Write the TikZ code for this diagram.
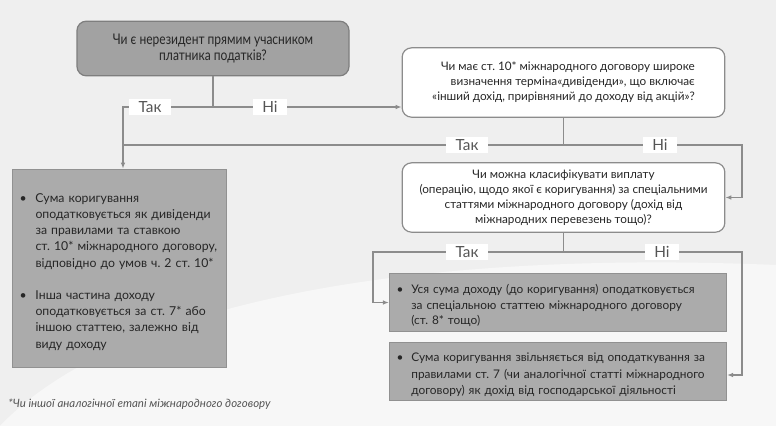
\documentclass[tikz,border=0pt]{standalone}
\usepackage{fontspec}
\setmainfont{Lato}
\newfontfamily\narrowfont[FakeStretch=0.82]{Lato}
\usetikzlibrary{arrows.meta}
\frenchspacing

\definecolor{bgcol}{HTML}{EFEFEF}
\definecolor{darkbox}{HTML}{A2A2A2}
\definecolor{midbox}{HTML}{ABABAB}
\definecolor{edgecol}{HTML}{8C8C8C}
\definecolor{txtcol}{HTML}{262626}
\definecolor{labcol}{HTML}{555555}

\newcommand{\bitem}[2][12pt]{\par\leftskip=#1\noindent\llap{\makebox[#1][l]{\textbullet}}#2\par}

\begin{document}
\begin{tikzpicture}[x=0.75pt, y=-0.75pt,
  question/.style={rectangle, rounded corners=7pt, draw=edgecol, fill=white, line width=0.9pt, minimum width=242pt, minimum height=52pt, align=center, inner sep=0pt, text=txtcol, font=\fontsize{8.8}{11.25}\selectfont},
  start/.style={question, fill=darkbox, draw=edgecol!90!black, minimum width=204pt, minimum height=41pt, font=\narrowfont\fontsize{11}{12.7}\selectfont},
  result/.style={rectangle, draw=midbox!85!black, fill=midbox, line width=0.6pt, inner xsep=5.5pt, inner ysep=0pt, align=left, text=txtcol},
  answer/.style={fill=white, inner xsep=7pt, inner ysep=2pt, text=labcol, font=\fontsize{11.5}{13}\selectfont},
  flow/.style={draw=edgecol, line width=1.1pt},
  direct/.style={flow, -{Latex[length=4.5pt, width=3.5pt]}}
]
\useasboundingbox (0,0) rectangle (776,426);
\fill[bgcol] (0,0) rectangle (776,426);
\fill[white, opacity=0.55] (0,426) .. controls (120,300) and (420,250) .. (776,265) -- (776,426) -- cycle;

% questions
\node[start] (Resident) at (213,48.5) {Чи є нерезидент прямим учасником\\платника податків?};
\node[question, align=right] (Dividend) at (563.5,82.5) {Чи має ст. 10* міжнародного договору широке\\визначення терміна«дивіденди», що включає\\«інший дохід, прирівняний до доходу від акцій»?};
\node[question] (Classify) at (563.5,197.5) {Чи можна класифікувати виплату\\(операцію, щодо якої є коригування) за спеціальними\\статтями міжнародного договору (дохід від\\міжнародних перевезень тощо)?};

% results
\node[result, text width=150pt, minimum height=148.5pt, font=\fontsize{9.2}{12.2}\selectfont] (AsDividend) at (119.5,268) {%
  \bitem{Сума коригування\\оподатковується як дивіденди\\за правилами та ставкою\\ст. 10* міжнародного договору,\\відповідно до умов ч. 2 ст. 10*}
  \vspace{12pt}
  \bitem{Інша частина доходу\\оподатковується за ст. 7* або\\іншою статтею, залежно від\\виду доходу}};
\node[result, text width=242pt, minimum height=44pt, font=\fontsize{8.9}{11.3}\selectfont] (Special) at (558,302.5) {%
  \bitem[11pt]{Уся сума доходу (до коригування) оподатковується\\за спеціальною статтею міжнародного договору\\(ст. 8* тощо)}};
\node[result, text width=242pt, minimum height=43.5pt, font=\fontsize{8.9}{12.3}\selectfont] (Exempt) at (558,371) {%
  \bitem[11pt]{Сума коригування звільняється від оподаткування за\\правилами ст. 7 (чи аналогічної статті міжнародного\\договору) як дохід від господарської діяльності}};

% footnote
\node[anchor=west, inner sep=0pt, text=labcol, font=\itshape\fontsize{8.6}{10}\selectfont] (Note) at (8,404) {*Чи іншої аналогічної етапі міжнародного договору};

% junctions
\coordinate (J1) at (213,107);
\coordinate (YesA) at (123,107);
\coordinate (J2) at (563.5,145);
\coordinate (NoB) at (742,145);
\coordinate (J3) at (563.5,252);
\coordinate (YesC) at (373,252);
\coordinate (NoC) at (742,252);

% first question
\draw[flow] (Resident) -- (J1);
\draw[direct] (J1) -- (YesA) -- (YesA |- AsDividend.north);
\draw[direct] (J1) -- (Dividend.west |- J1);

% second question
\draw[flow] (Dividend) -- (J2) -- (J2 -| YesA);
\draw[direct] (J2) -- (NoB) -- (NoB |- Classify.east) -- (Classify.east);

% third question
\draw[flow] (Classify) -- (J3);
\draw[direct] (J3) -- (YesC) -- (YesC |- Special.west) -- (Special.west);
\draw[direct] (J3) -- (NoC) -- ([yshift=-3pt]NoC |- Exempt.east) -- ([yshift=-3pt]Exempt.east);

% labels
\node[answer] (YesLab1) at (150,107) {Так};
\node[answer] (NoLab1) at (270,107) {Ні};
\node[answer] (YesLab2) at (467,145) {Так};
\node[answer] (NoLab2) at (660,145) {Ні};
\node[answer] (YesLab3) at (467,252) {Так};
\node[answer] (NoLab3) at (662,252) {Ні};

\end{tikzpicture}
\end{document}
